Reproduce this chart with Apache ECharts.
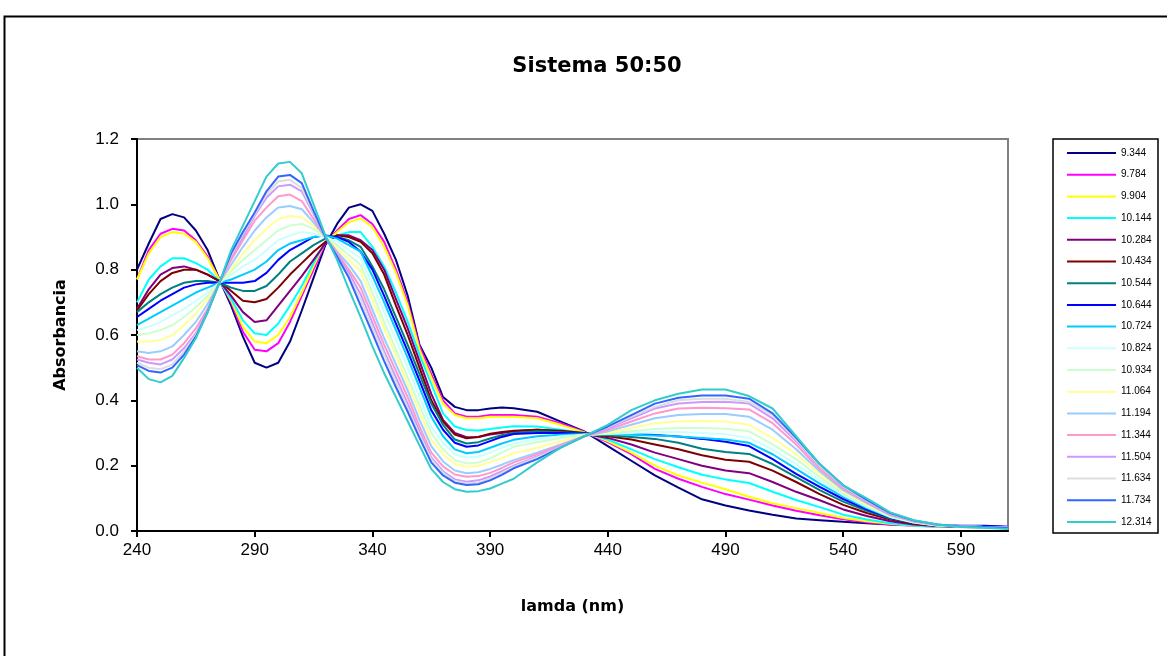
<!DOCTYPE html>
<html>
<head>
<meta charset="utf-8">
<script src="https://cdn.jsdelivr.net/npm/echarts@6/dist/echarts.min.js"></script>
<style>
html,body{margin:0;padding:0;background:#fff;}
#c{width:1167px;height:656px;}
</style>
</head>
<body>
<div id="c"></div>
<script>
// wavelength (nm)
const lamda = [240,245,250,255,260,265,270,275,280,285,290,295,300,305,310,315,320,325,330,335,340,345,350,355,360,365,370,375,380,385,390,395,400,410,420,430,440,450,460,470,480,490,500,510,520,530,540,550,560,570,580,590,600,610];

const seriesNames = ['9.344','9.784','9.904','10.144','10.284','10.434','10.544','10.644','10.724','10.824','10.934','11.064','11.194','11.344','11.504','11.634','11.734','12.314'];
const seriesColors = ['#000080','#FF00FF','#FFFF00','#00FFFF','#800080','#800000','#008080','#0000FF','#00CCFF','#CCFFFF','#CCFFCC','#FFFF99','#99CCFF','#FF99CC','#CC99FF','#DDDDDD','#3366FF','#33CCCC'];

const s9_344 = [.80,.88,.955,.97,.96,.92,.86,.77, .69,.595,.515,.50,.515,.58,.675,.775,.875, .94,.99,1.0,.98,.91,.83,.72,.57,.50, .41,.38,.37,.37,.375,.378,.376, .365,.335,.305,.26,.215,.17,.133,.097,.078,.063,.05,.038,.033,.028,.024,.02,.018,.016,.015,.015,.012];
const s9_784 = [.77,.86,.91,.925,.92,.89,.84,.77, .70,.61,.555,.55,.575,.64,.72,.80,.88, .92,.955,.967,.94,.885,.80,.70,.565,.48, .40,.36,.35,.35,.355,.355,.355, .35,.33,.303,.272,.235,.19,.16,.135,.113,.096,.078,.062,.048,.036,.027,.02,.016,.013,.012,.011,.01];
const s9_904 = [.77,.85,.90,.915,.91,.885,.835,.77, .705,.625,.58,.575,.60,.655,.73,.81,.885, .915,.945,.957,.93,.87,.79,.69,.555,.47, .39,.355,.345,.345,.35,.35,.35, .345,.325,.302,.275,.24,.20,.17,.148,.128,.105,.085,.07,.055,.04,.03,.022,.017,.014,.012,.011,.01];
const s10_144 = [.70,.77,.81,.835,.835,.82,.80,.765, .71,.645,.605,.60,.635,.69,.75,.82,.885, .905,.915,.915,.87,.81,.73,.64,.54,.45, .36,.32,.309,.308,.312,.317,.321, .32,.31,.30,.28,.25,.22,.195,.172,.158,.147,.12,.095,.073,.05,.035,.024,.017,.014,.012,.011,.01];
const s10_284 = [.68,.74,.785,.805,.81,.80,.785,.765, .72,.67,.64,.645,.69,.735,.78,.83,.88, .905,.905,.89,.86,.80,.71,.62,.52,.42, .34,.30,.287,.288,.295,.30,.305, .31,.305,.298,.285,.265,.24,.22,.20,.185,.177,.15,.12,.094,.066,.046,.03,.02,.015,.013,.012,.01];
const s10_434 = [.675,.725,.765,.79,.80,.80,.785,.765, .735,.705,.70,.71,.745,.785,.82,.855,.885, .905,.90,.885,.85,.785,.69,.60,.50,.40, .335,.295,.284,.288,.298,.303,.307, .31,.307,.30,.29,.28,.265,.25,.232,.218,.212,.185,.15,.113,.08,.055,.035,.022,.016,.014,.013,.011];
const s10_544 = [.67,.70,.725,.745,.76,.765,.765,.76, .745,.735,.735,.75,.785,.825,.85,.875,.895, .90,.89,.87,.81,.74,.655,.57,.48,.39, .325,.28,.268,.272,.283,.293,.30, .305,.302,.298,.293,.288,.282,.27,.252,.242,.236,.205,.165,.125,.09,.062,.038,.025,.017,.014,.013,.011];
const s10_644 = [.655,.68,.705,.725,.745,.755,.76,.76, .76,.76,.765,.79,.83,.86,.88,.90,.905, .90,.885,.855,.80,.72,.635,.55,.46,.37, .31,.27,.258,.262,.275,.288,.297, .30,.30,.298,.298,.297,.294,.289,.282,.273,.26,.22,.175,.135,.098,.066,.04,.026,.018,.016,.016,.013];
const s10_724 = [.63,.65,.67,.69,.71,.73,.745,.76, .77,.785,.80,.825,.86,.88,.89,.90,.905, .895,.875,.855,.78,.70,.615,.53,.44,.35, .29,.25,.238,.242,.255,.268,.279, .29,.295,.296,.296,.295,.292,.289,.285,.28,.27,.235,.19,.145,.105,.07,.042,.026,.017,.014,.012,.01];
const s10_824 = [.615,.625,.64,.66,.68,.705,.73,.76, .785,.81,.83,.86,.89,.905,.915,.91,.90, .885,.86,.835,.755,.67,.585,.50,.41,.32, .27,.235,.225,.228,.24,.255,.268, .28,.29,.295,.297,.30,.303,.303,.30,.296,.285,.25,.205,.155,.11,.074,.043,.026,.017,.014,.012,.01];
const s10_934 = [.60,.605,.615,.63,.655,.685,.72,.76, .795,.83,.86,.89,.92,.935,.94,.925,.90, .875,.845,.815,.73,.64,.555,.47,.385,.30, .25,.217,.207,.21,.222,.24,.258, .272,.285,.295,.298,.305,.312,.315,.315,.313,.305,.265,.22,.165,.115,.077,.044,.027,.017,.014,.012,.01];
const s11_064 = [.58,.58,.585,.60,.63,.665,.71,.76, .80,.85,.89,.925,.955,.965,.96,.935,.90, .865,.83,.795,.708,.62,.536,.45,.364,.28, .235,.205,.197,.20,.21,.223,.238, .255,.275,.292,.30,.315,.33,.336,.337,.335,.325,.285,.235,.175,.12,.08,.046,.028,.018,.014,.012,.01];
const s11_194 = [.55,.545,.55,.565,.60,.64,.695,.76, .815,.87,.92,.96,.99,.995,.985,.945,.90, .855,.815,.765,.678,.59,.51,.43,.34,.26, .213,.185,.177,.18,.19,.203,.217, .24,.265,.29,.305,.325,.345,.355,.358,.358,.35,.31,.25,.183,.125,.085,.048,.029,.018,.014,.012,.01];
const s11_344 = [.535,.525,.525,.54,.575,.62,.68,.76, .83,.89,.95,.99,1.025,1.03,1.01,.955,.90, .85,.80,.745,.658,.57,.49,.41,.32,.24, .198,.173,.166,.168,.178,.193,.21, .235,.262,.29,.31,.335,.36,.375,.377,.376,.372,.33,.265,.19,.13,.088,.05,.03,.019,.014,.012,.01];
const s11_504 = [.525,.515,.51,.525,.56,.605,.675,.76, .84,.90,.965,1.02,1.055,1.06,1.04,.97,.90, .845,.79,.725,.637,.55,.47,.39,.305,.225, .183,.158,.151,.155,.167,.183,.20, .228,.258,.29,.315,.345,.375,.39,.395,.396,.39,.345,.275,.198,.135,.09,.052,.03,.019,.014,.012,.01];
const s11_634 = [.515,.50,.495,.51,.55,.60,.67,.76, .845,.91,.97,1.03,1.07,1.075,1.05,.975,.90, .84,.78,.71,.62,.54,.455,.375,.295,.22, .178,.153,.146,.148,.16,.177,.196, .225,.257,.29,.318,.35,.38,.40,.405,.405,.395,.355,.28,.20,.137,.093,.054,.031,.02,.014,.012,.01];
const s11_734 = [.508,.49,.485,.50,.54,.595,.67,.76, .85,.915,.975,1.04,1.085,1.09,1.065,.98,.90, .84,.775,.69,.606,.52,.44,.365,.285,.21, .17,.148,.141,.143,.155,.172,.192, .22,.255,.29,.32,.355,.39,.408,.415,.415,.405,.36,.285,.205,.14,.095,.055,.032,.02,.014,.012,.01];
const s12_314 = [.50,.465,.455,.475,.53,.59,.67,.76, .86,.935,1.01,1.085,1.125,1.13,1.095,1.00,.905, .83,.74,.655,.565,.483,.41,.336,.262,.19, .15,.128,.12,.122,.13,.145,.16, .21,.255,.29,.325,.37,.40,.42,.433,.433,.413,.375,.29,.205,.14,.10,.057,.033,.02,.013,.01,.006];

const seriesValues = [s9_344,s9_784,s9_904,s10_144,s10_284,s10_434,s10_544,s10_644,s10_724,s10_824,s10_934,s11_064,s11_194,s11_344,s11_504,s11_634,s11_734,s12_314];

const xTicks = [240,290,340,390,440,490,540,590];

const chart = echarts.init(document.getElementById('c'), null, {renderer:'canvas'});
const FONT = 'Liberation Sans, Arial, sans-serif';

const series = seriesNames.map((name, k) => ({
  name: name,
  type: 'line',
  showSymbol: false,
  symbol: 'none',
  smooth: false,
  animation: false,
  color: seriesColors[k],
  lineStyle: {width: 2, color: seriesColors[k]},
  data: lamda.map((x, i) => [x, seriesValues[k][i]])
}));

chart.setOption({
  backgroundColor: '#ffffff',
  animation: false,
  title: {
    text: 'Sistema 50:50',
    left: 592, top: 51, textAlign: 'center',
    textStyle: {fontFamily: 'DejaVu Sans', fontWeight: 'bold', fontSize: 21, color: '#000'}
  },
  grid: {left: 137, top: 139, width: 871, height: 392, show: true, borderColor: '#808080', borderWidth: 2, backgroundColor: '#fff'},
  xAxis: {
    type: 'value', min: 240, max: 610,
    name: 'lamda (nm)', nameLocation: 'middle', nameGap: 68,
    nameTextStyle: {fontFamily: 'DejaVu Sans', fontWeight: 'bold', fontSize: 16, color: '#000'},
    axisLine: {show: true, onZero: false, lineStyle: {color: '#000', width: 2}},
    axisTick: {show: true, length: 6, lineStyle: {color: '#000', width: 2}, customValues: xTicks},
    axisLabel: {color: '#000', fontFamily: FONT, fontSize: 17, margin: 11, customValues: xTicks},
    splitLine: {show: false}
  },
  yAxis: {
    type: 'value', min: 0, max: 1.2, interval: 0.2,
    name: 'Absorbancia', nameLocation: 'middle', nameGap: 68, nameRotate: 90,
    nameTextStyle: {fontFamily: 'DejaVu Sans', fontWeight: 'bold', fontSize: 16, color: '#000'},
    axisLine: {show: true, lineStyle: {color: '#000', width: 2}},
    axisTick: {show: true, length: 6, lineStyle: {color: '#000', width: 2}},
    axisLabel: {color: '#000', fontFamily: FONT, fontSize: 17, margin: 18, formatter: v => v.toFixed(1)},
    splitLine: {show: false}
  },
  legend: {
    orient: 'vertical', left: 1062, top: 142,
    itemWidth: 49, itemHeight: 2, itemGap: 9.7, icon: 'rect',
    textStyle: {fontFamily: FONT, fontSize: 10, color: '#000', lineHeight: 12},
    data: seriesNames
  },
  graphic: [
    {type: 'rect', left: 2, top: 14, shape: {x: 0, y: 0, width: 1180, height: 700}, style: {fill: 'none', stroke: '#000', lineWidth: 2}, silent: true, z: -10},
    {type: 'rect', shape: {x: 1053, y: 139, width: 105, height: 394}, style: {fill: 'none', stroke: '#000', lineWidth: 1.5}, silent: true}
  ],
  series: series
});
</script>
</body>
</html>
